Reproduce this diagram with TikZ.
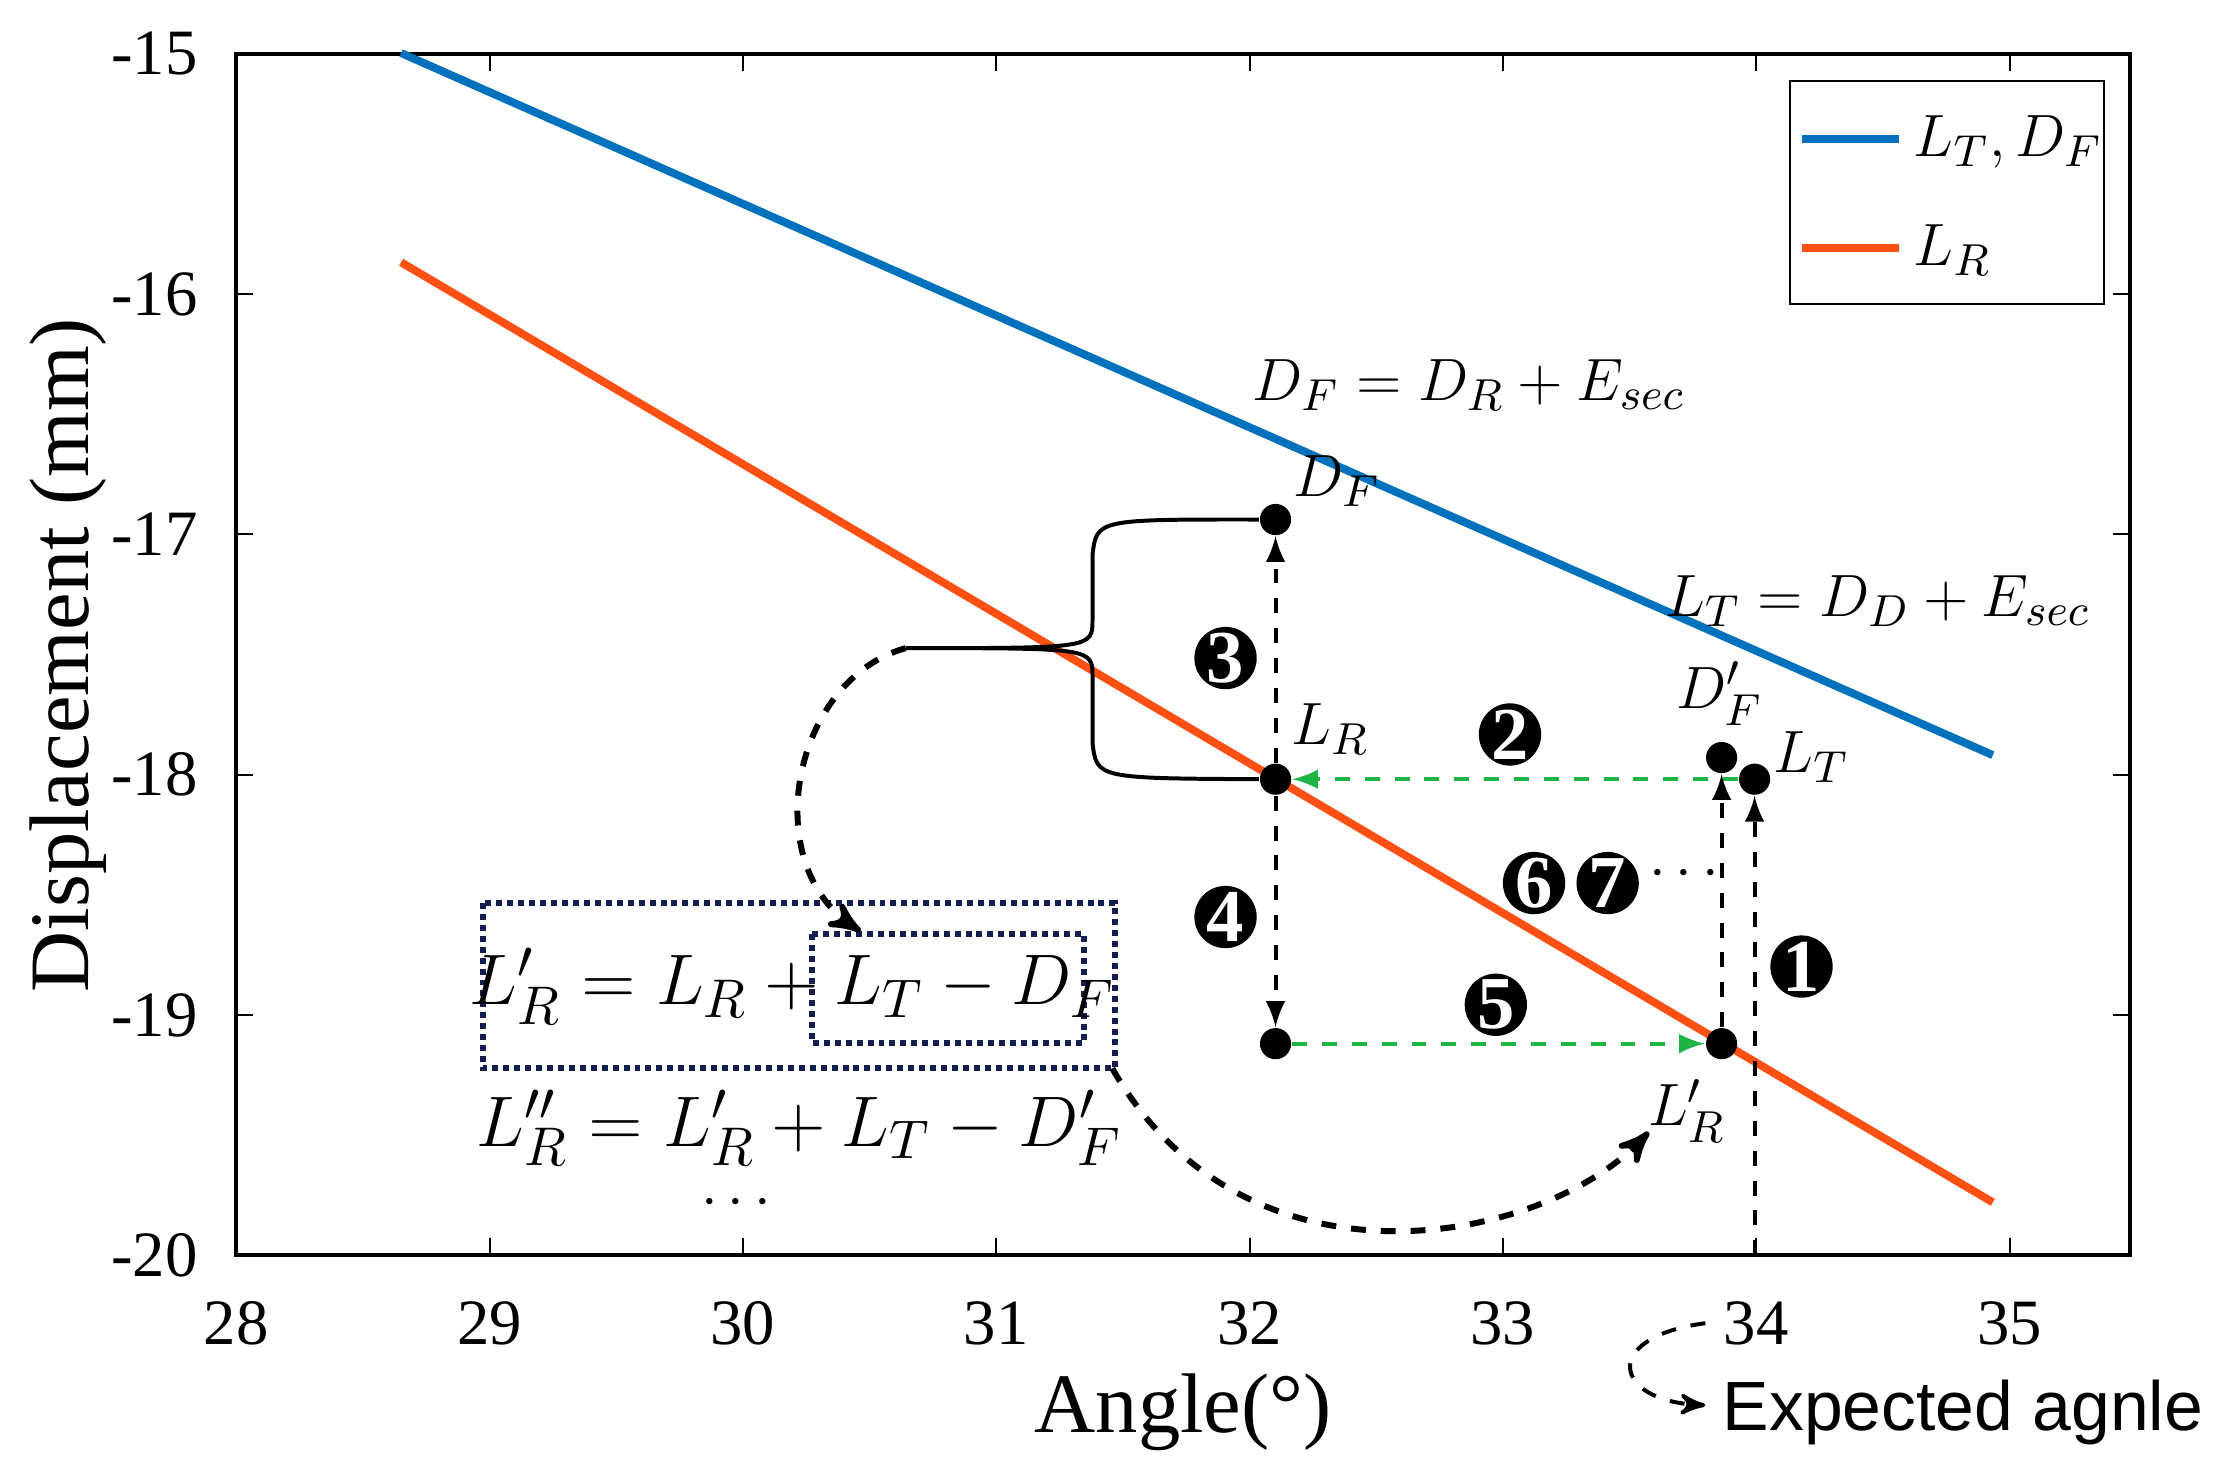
\documentclass[tikz,border=0pt]{standalone}
\usepackage{fontspec}
\setmainfont{Liberation Serif}
\newfontfamily\arialfont{Liberation Sans}
\usetikzlibrary{arrows}
\usetikzlibrary{positioning}
\definecolor{lineblue}{RGB}{0,114,189}
\definecolor{lineorange}{RGB}{255,80,20}
\definecolor{stepgreen}{RGB}{30,180,70}
\definecolor{boxnavy}{RGB}{20,30,80}
\tikzset{
  pt/.style={circle,fill=black,inner sep=0pt,minimum size=0.22cm},
  stepno/.style={circle,fill=black,text=white,inner sep=0pt,minimum size=0.44cm,font=\fontsize{15}{15}\selectfont\bfseries},
  lbl/.style={font=\fontsize{13}{15}\selectfont},
  tick/.style={font=\fontsize{13}{15}\selectfont},
  vdash/.style={dashed,thick,-latex},
  gdash/.style={dashed,thick,stepgreen,-latex},
  bigdash/.style={dashed,very thick,-stealth'}
}
\begin{document}
\begin{tikzpicture}[x=0.01cm,y=-0.01cm]
    \useasboundingbox (0,0) rectangle (1568,1046);

    % axes box and ticks
    \draw[thick] (167,38) rectangle (1505,887);
    \foreach \a [count=\i from 0] in {28,...,35} {
      \draw (167+179*\i,887) -- ++(0,-12);
      \draw (167+179*\i,38) -- ++(0,12);
      \node[tick] (xt\a) at (167+179*\i,935) {\a};
    }
    \foreach \d [count=\i from 0] in {-20,...,-15} {
      \draw (167,887-169.8*\i) -- ++(12,0);
      \draw (1505,887-169.8*\i) -- ++(-12,0);
      \node[tick,anchor=east] (yt\i) at (152,887-169.8*\i) {\d};
    }
    \node[font=\fontsize{17}{19}\selectfont] (xlab) at (836,998) {Angle(°)};
    \node[font=\fontsize{17}{19}\selectfont,rotate=90] (ylab) at (48,463) {Displacement (mm)};

    % data lines
    \begin{scope}[shift={(167,887)},x=1.79cm,y=1.698cm]
      \draw[lineblue,line width=1.6pt] (0.65,5) -- (6.93,2.08);
      \draw[lineorange,line width=1.6pt] (0.65,4.13) -- (6.93,0.22);
      \node[pt] (DF) at (4.1,3.06) {};
      \node[pt] (LR) at (4.1,1.98) {};
      \node[pt] (B) at (4.1,0.88) {};
      \node[pt] (LRp) at (5.86,0.88) {};
      \node[pt] (DFp) at (5.86,2.07) {};
      \node[pt] (LT) at (5.99,1.98) {};
      \coordinate (xa) at (5.99,0);
    \end{scope}

    % legend
    \draw[fill=white] (1265,57) rectangle (1487,215);
    \draw[lineblue,line width=1.6pt] (1273,98) -- (1342,98);
    \draw[lineorange,line width=1.6pt] (1273,175) -- (1342,175);
    \node[lbl,anchor=west] (leg1) at (1340,100) {$L_T, D_F$};
    \node[lbl,anchor=west] (leg2) at (1340,177) {$L_R$};

    % point labels
    \node[lbl] (eq1) at (1038,272) {$D_F = D_R + E_{sec}$};
    \node[lbl] (eq2) at (1327,425) {$L_T = D_D + E_{sec}$};
    \node[lbl] (tDF) at (945,340) {$D_F$};
    \node[lbl] (tLR) at (940,515) {$L_R$};
    \node[lbl] (tDFp) at (1215,490) {$D_F'$};
    \node[lbl] (tLT) at (1280,535) {$L_T$};
    \node[lbl] (tLRp) at (1192,785) {$L_R'$};

    % steps
    \draw[vdash] (LR) -- (DF);
    \draw[vdash] (LR) -- (B);
    \draw[gdash] (LT) -- (LR);
    \draw[gdash] (B) -- (LRp);
    \draw[vdash] (xa) -- (LT);
    \draw[vdash] (LRp) -- (DFp);
    \node[stepno] (s1) at (1273,683) {1};
    \node[stepno] (s2) at (1067,519) {2};
    \node[stepno] (s3) at (866,465) {3};
    \node[stepno] (s4) at (866,648) {4};
    \node[stepno] (s5) at (1057,710) {5};
    \node[stepno] (s6) at (1084,624) {6};
    \node[stepno] (s7) at (1136,624) {7};
    \node[lbl] (sdots) at (1190,618) {$\cdots$};

    % brace
    \coordinate (tip) at (640,458);
    \draw[thick] (DF.west) .. controls (775,367) .. (772,392) -- (772,438) .. controls (772,458) .. (tip)
      .. controls (772,458) .. (772,478) -- (772,525) .. controls (775,550) .. (LR.west);

    % formulas
    \draw[boxnavy,densely dotted,very thick] (341,638) rectangle (788,755);
    \draw[boxnavy,densely dotted,very thick] (574,660) rectangle (766,737);
    \node[font=\fontsize{15}{17}\selectfont] (f1) at (560,697) {$L_R' = L_R + L_T - D_F$};
    \node[font=\fontsize{15}{17}\selectfont] (f2) at (565,797) {$L_R'' = L_R' + L_T - D_F'$};
    \node[lbl] (f3) at (520,850) {$\cdots$};
    \coordinate (boxc) at (786,755);
    \draw[bigdash] (tip) .. controls (560,480) and (535,610) .. (608,658);
    \draw[bigdash] (boxc) .. controls (880,920) and (1090,880) .. (1165,800);

    % expected angle
    \draw[dashed,thick,-stealth'] (1205,935) .. controls (1130,945) and (1140,990) .. (1205,993);
    \node[font=\arialfont\fontsize{14}{16}\selectfont,anchor=west] (exp) at (1205,998) {Expected agnle};
\end{tikzpicture}
\end{document}
